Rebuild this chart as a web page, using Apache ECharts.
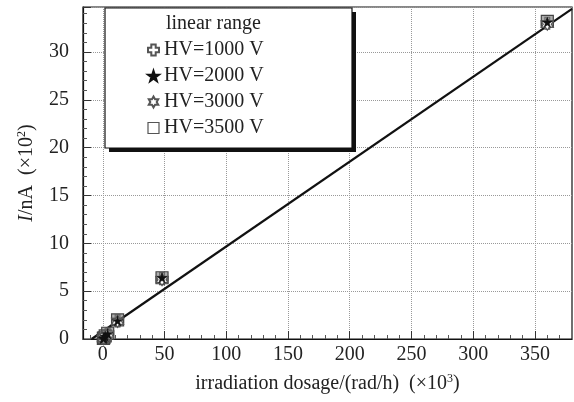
<!DOCTYPE html>
<html><head><meta charset="utf-8">
<script src="https://cdn.jsdelivr.net/npm/echarts@6/dist/echarts.min.js"></script>
<style>html,body{margin:0;padding:0;background:#fff}#c{width:574px;height:402px}</style>
</head><body><div id="c"></div>
<script>
// data
var xVals  = [0.5, 1, 2, 4, 12, 48, 360];
var hv1000 = [0.05, 0.1, 0.3, 0.5, 1.9, 6.3, 33.0];
var hv2000 = [0.05, 0.12, 0.3, 0.55, 1.9, 6.4, 33.1];
var hv3000 = [0.04, 0.1, 0.28, 0.5, 1.85, 6.2, 32.9];
var hv3500 = [0.06, 0.13, 0.32, 0.6, 2.0, 6.4, 33.2];
var fitX = [-9, 380];
var fitY = [0, 34.5];
var seriesNames = ['HV=1000 V', 'HV=2000 V', 'HV=3000 V', 'HV=3500 V'];
var xTicks = [0, 50, 100, 150, 200, 250, 300, 350];
var xMinorTicks = [-10, 10, 20, 30, 40, 60, 70, 80, 90, 110, 120, 130, 140, 160, 170, 180, 190, 210, 220, 230, 240, 260, 270, 280, 290, 310, 320, 330, 340, 360, 370];
var yTicks = [0, 5, 10, 15, 20, 25, 30];

function pairs(xs, ys){ return xs.map(function(x,i){ return [x, ys[i]]; }); }

var FONT = '"Liberation Serif","DejaVu Serif",serif';
var symPlus = 'path://M3,0H7V3H10V7H7V10H3V7H0V3H3Z';
var symStarFill = 'path://M5,0L6.2,3.6L10,3.6L7,5.9L8.1,9.5L5,7.3L1.9,9.5L3,5.9L0,3.6L3.8,3.6Z';
var symStar6 = 'path://M5,0L6.4,2.5L9.3,2.5L7.9,5L9.3,7.5L6.4,7.5L5,10L3.6,7.5L0.7,7.5L2.1,5L0.7,2.5L3.6,2.5Z';

var chart = echarts.init(document.getElementById('c'), null, {renderer:'canvas'});
chart.setOption({
  animation:false,
  backgroundColor:'#fff',
  grid:{left:83, top:7, right:2, bottom:63, show:true, borderColor:'#111', borderWidth:1.2, backgroundColor:'transparent'},
  xAxis:[{
    type:'value', min:-16, max:380,
    name:'irradiation dosage/(rad/h)  (×10{s|3})',
    nameLocation:'middle', nameGap:34,
    nameTextStyle:{color:'#222', fontFamily:FONT, fontSize:20, rich:{s:{fontSize:12, fontFamily:FONT, color:'#222', padding:[0,0,9,0]}}},
    axisLine:{show:true, onZero:false, lineStyle:{color:'#111', width:1.2}},
    axisTick:{show:true, inside:true, length:8, customValues:xTicks, lineStyle:{color:'#333'}},
    splitLine:{show:true, lineStyle:{color:'#999', type:'dotted', width:1}},
    axisLabel:{show:true, margin:6, customValues:xTicks, color:'#222', fontFamily:FONT, fontSize:20}
  },{
    type:'value', min:-16, max:380, position:'bottom',
    axisLine:{show:false, onZero:false},
    axisTick:{show:true, inside:true, length:4, customValues:xMinorTicks, lineStyle:{color:'#555'}},
    splitLine:{show:false},
    axisLabel:{show:false}
  }],
  yAxis:{
    type:'value', min:0, max:34.7, interval:5,
    name:'{i|I}/nA  (×10{s|2})',
    nameLocation:'middle', nameGap:46,
    nameTextStyle:{color:'#222', fontFamily:FONT, fontSize:20, rich:{i:{fontStyle:'italic', fontFamily:FONT, fontSize:20, color:'#222'}, s:{fontSize:12, fontFamily:FONT, color:'#222', padding:[0,0,9,0]}}},
    axisLine:{show:true, onZero:false, lineStyle:{color:'#111', width:1.2}},
    axisTick:{show:true, inside:true, length:8, lineStyle:{color:'#333'}},
    minorTick:{show:true, splitNumber:5, length:4, lineStyle:{color:'#555'}},
    splitLine:{show:true, lineStyle:{color:'#999', type:'dotted', width:1}},
    axisLabel:{margin:14, color:'#222', fontFamily:FONT, fontSize:20, formatter:function(v){ return yTicks.indexOf(v)>=0 ? String(v) : ''; }}
  },
  legend:{
    orient:'vertical', left:105, top:8, z:5,
    padding:[32, 86, 10, 42],
    itemWidth:11, itemHeight:11, itemGap:6,
    textStyle:{color:'#222', fontFamily:FONT, fontSize:20, lineHeight:20},
    data:[
      {name:seriesNames[0]},
      {name:seriesNames[1]},
      {name:seriesNames[2]},
      {name:seriesNames[3], itemStyle:{color:'#fff', borderColor:'#555', borderWidth:1.2}}
    ]
  },
  graphic:[
    {type:'rect', z:3, shape:{x:109, y:12, width:247, height:140}, style:{fill:'#111'}},
    {type:'rect', z:3, shape:{x:105, y:8, width:247, height:140}, style:{fill:'#fff', stroke:'#111', lineWidth:1.2}},
    {type:'text', left:166, top:14, z:6, style:{text:'linear range', font:'20px "Liberation Serif"', fill:'#222'}}
  ],
  series:[
    {name:'linear fit', type:'line', data:pairs(fitX, fitY), symbol:'none', lineStyle:{color:'#111', width:2.2}, z:3},
    {name:seriesNames[0], type:'scatter', data:pairs(xVals, hv1000), symbol:symPlus, symbolSize:12, itemStyle:{color:'#fff', borderColor:'#555', borderWidth:1.2, opacity:1}, z:4},
    {name:seriesNames[3], type:'scatter', data:pairs(xVals, hv3500), symbol:'rect', symbolSize:12, itemStyle:{color:'rgba(120,120,120,0.6)', borderColor:'#444', borderWidth:1.2, opacity:1}, z:4},
    {name:seriesNames[2], type:'scatter', data:pairs(xVals, hv3000), symbol:symStar6, symbolSize:12, itemStyle:{color:'#fff', borderColor:'#555', borderWidth:1.2, opacity:1}, z:5},
    {name:seriesNames[1], type:'scatter', data:pairs(xVals, hv2000), symbol:symStarFill, symbolSize:10, itemStyle:{color:'#111', borderColor:'#111', borderWidth:0.5, opacity:1}, z:6}
  ]
});
</script></body></html>
